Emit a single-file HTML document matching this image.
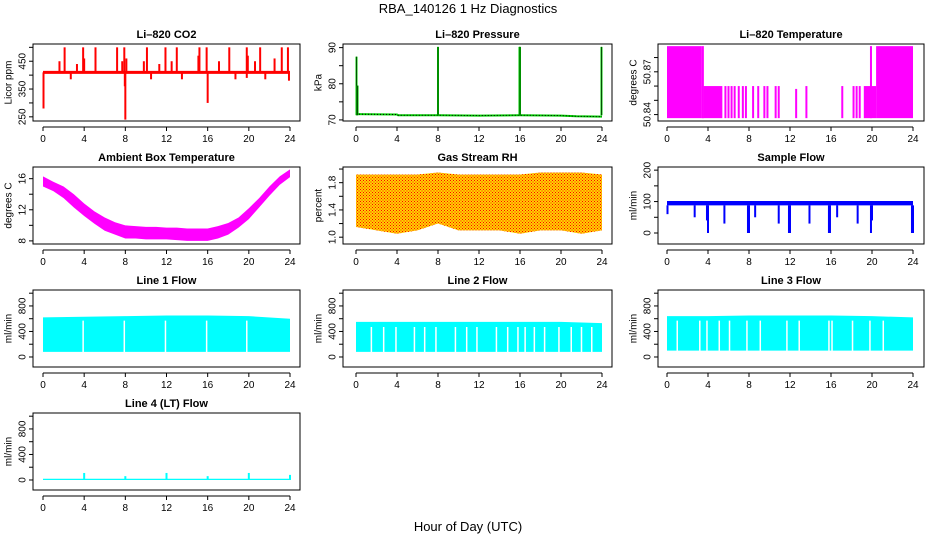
<!DOCTYPE html>
<html><head><meta charset="utf-8"><style>
body{margin:0;background:#fff}
svg{display:block;font-family:"Liberation Sans",sans-serif}
</style></head><body>
<svg id="c" width="936" height="540" viewBox="0 0 936 540">
<text x="468" y="13" text-anchor="middle" font-size="13">RBA_140126  1 Hz Diagnostics</text>
<text x="468" y="531" text-anchor="middle" font-size="13">Hour of Day (UTC)</text>
</svg>
<script>
// ---- data arrays ----
const xTicks=[0,4,8,12,16,20,24];
// CO2
const co2Base=410;
const co2SpikeHours=[2.1,3.9,5.1,7.2,7.9,10.1,11.9,13.0,15.2,15.9,18.1,19.8,21.1,23.2,23.8,1.6,3.3,4.0,7.7,8.1,9.8,11.3,12.5,15.1,17.1,19.9,20.6,22.5];
const co2SpikeVals=[500,500,500,500,500,500,500,500,500,500,500,500,500,500,500,450,440,460,450,460,450,440,450,470,450,470,450,460];
const co2DipHours=[0.05,2.7,7.95,8.0,10.5,13.5,16.0,18.7,19.8,21.6,23.9];
const co2DipVals=[280,385,360,240,385,385,300,385,390,385,380];
// Pressure
const presHours=[0,4,4.1,8,12,16,20,21.5,24];
const presVals=[71.6,71.5,71.3,71.3,71.2,71.3,71.2,71.0,70.9];
const presSpikeHours=[0.05,0.15,8.0,15.95,16.0,23.95];
const presSpikeVals=[87.5,79.5,90.2,90.2,90.2,90.2];
// Li-820 temperature (step levels)
const tempStepHours=[0,3.4,3.6,5.4,19.2,20.4,24];
const tempStepVals=[50.888,50.860,50.860,50.8375,50.860,50.888];
const tempSpikeHours=[3.5,5.7,6.0,6.3,6.6,7.0,7.4,7.7,8.4,8.9,9.5,9.8,10.6,10.9,12.6,13.6,17.1,18.2,18.5,18.8,19.9];
const tempSpikeVals=[50.888,50.86,50.86,50.86,50.86,50.86,50.86,50.86,50.86,50.86,50.86,50.86,50.86,50.86,50.858,50.86,50.86,50.86,50.86,50.86,50.888];
// Ambient box temperature
const ambHours=[0,1,2,3,4,5,6,7,8,9,10,11,12,13,14,15,16,17,18,19,20,21,22,23,24];
const ambHi=[16.3,15.6,15.0,14.0,12.8,11.8,11.0,10.4,10.0,9.9,9.8,9.8,9.7,9.7,9.6,9.6,9.6,9.9,10.3,11.0,12.2,13.5,15.0,16.3,17.2];
const ambLo=[15.0,14.4,13.5,12.3,11.2,10.2,9.3,8.8,8.3,8.3,8.2,8.2,8.2,8.1,8.0,8.0,8.0,8.3,8.8,9.7,10.8,12.3,13.8,15.2,16.2];
// Gas stream RH
const rhHours=[0,2,4,6,8,10,12,14,16,18,20,22,24];
const rhHi=[1.92,1.92,1.92,1.92,1.95,1.92,1.92,1.92,1.92,1.95,1.95,1.95,1.92];
const rhLo=[1.15,1.1,1.05,1.1,1.2,1.1,1.1,1.1,1.05,1.1,1.1,1.05,1.1];
// Sample flow
const sfHi=102, sfLo=88;
const sfDipHours=[0.05,2.7,3.9,4.0,5.6,7.9,8.0,8.6,10.9,11.9,12.0,13.9,15.8,15.9,16.6,18.6,19.9,20.0,23.9,24.0];
const sfDipVals=[60,50,40,0,30,0,0,50,30,0,0,30,0,0,50,30,0,40,0,0];
// Line flows
const l1Hi=[620,630,640,650,650,640,600], l1Lo=80;
const l1GapHours=[3.9,7.9,11.9,15.9,19.8];
const l2Hi=[550,550,550,550,550,550,530], l2Lo=80;
const l2GapHours=[1.5,2.7,3.9,5.7,6.7,7.8,9.7,10.8,11.8,13.7,14.8,15.8,16.5,17.4,18.4,19.8,21.0,22.0,23.0];
const l3Hi=[640,640,650,650,650,640,620], l3Lo=100;
const l3GapHours=[1.0,3.2,3.9,5.1,6.1,7.8,9.1,11.7,12.9,15.8,16.1,18.1,19.8,21.1];
const l4Base=20;
const l4SpikeHours=[4.0,8.0,12.0,16.0,20.0,24.0];
const l4SpikeVals=[110,60,110,60,110,80];

// ---- layout ----
const NS='http://www.w3.org/2000/svg';
const svg=document.getElementById('c');
function mk(tag,attrs,parent){const e=document.createElementNS(NS,tag);for(const k in attrs)e.setAttribute(k,attrs[k]);(parent||svg).appendChild(e);return e;}
const cols=[[33,300,43,290,9,23],[343,612,356,602,319,333],[658,924,667,913,634,648]];
const rows=[[44,121],[167,244],[290,367],[413,490]];

function panel(name,title,c,r,ylim,ticks,labels,ylab){
  const [bl,br,x0,x1,ylx,tlx]=cols[c];const [bt,bb]=rows[r];
  const g=mk('g',{});
  
  
  const X=h=>x0+(x1-x0)*h/24;
  const Y=v=>bb-(bb-bt)*(v-ylim[0])/(ylim[1]-ylim[0]);
  const data=mk('g',{},g);
  
  
  const box=mk('rect',{x:bl,y:bt,width:br-bl,height:bb-bt,fill:'none',stroke:'#000','stroke-width':1},g);
  
  
  const t=mk('text',{x:(bl+br)/2,y:bt-6,'text-anchor':'middle','font-size':11,'font-weight':'bold'},g);
  t.textContent=title;
  
  
  mk('line',{x1:X(0),x2:X(24),y1:bb+6,y2:bb+6,stroke:'#000'},g);
  xTicks.forEach(h=>{mk('line',{x1:X(h),x2:X(h),y1:bb+6,y2:bb+10,stroke:'#000'},g);
    const l=mk('text',{x:X(h),y:bb+21,'text-anchor':'middle','font-size':10},g);l.textContent=h;
    
    });
  mk('line',{x1:bl,x2:bl,y1:Y(ticks[0]),y2:Y(ticks[ticks.length-1]),stroke:'#000'},g);
  ticks.forEach((v,i)=>{mk('line',{x1:bl-4,x2:bl,y1:Y(v),y2:Y(v),stroke:'#000'},g);
    if(labels[i]!==''){const l=mk('text',{x:tlx,y:Y(v),'text-anchor':'middle','font-size':10,transform:`rotate(-90 ${tlx} ${Y(v)})`,'dominant-baseline':'middle'},g);l.textContent=labels[i];
    
    }});
  const yl=mk('text',{x:ylx,y:(bt+bb)/2,'text-anchor':'middle','font-size':10,transform:`rotate(-90 ${ylx} ${(bt+bb)/2})`,'dominant-baseline':'middle'},g);
  yl.textContent=ylab;
  
  
  return {X,Y,g:data};
}
function vline(p,h,a,b,col,w){mk('line',{x1:p.X(h),x2:p.X(h),y1:p.Y(a),y2:p.Y(b),stroke:col,'stroke-width':w||1.5},p.g);}
function band(p,hours,hi,lo,col){let pts=hours.map((h,i)=>p.X(h)+','+p.Y(hi[i]));
  for(let i=hours.length-1;i>=0;i--)pts.push(p.X(hours[i])+','+p.Y(Array.isArray(lo)?lo[i]:lo));
  mk('polygon',{points:pts.join(' '),fill:col},p.g);}
const sevenH=[0,4,8,12,16,20,24];

let p=panel('co2','Li\u2013820 CO2',0,0,[235,512],[250,300,350,400,450,500],['250','','350','','450',''],'Licor ppm');
mk('line',{x1:p.X(0),x2:p.X(24),y1:p.Y(co2Base),y2:p.Y(co2Base),stroke:'#f00','stroke-width':3},p.g);
co2SpikeHours.forEach((h,i)=>vline(p,h,co2Base,co2SpikeVals[i],'#f00',2));
co2DipHours.forEach((h,i)=>vline(p,h,co2Base,co2DipVals[i],'#f00',2));

p=panel('pressure','Li\u2013820 Pressure',1,0,[69.7,91],[70,75,80,85,90],['70','','80','','90'],'kPa');
mk('polyline',{points:presHours.map((h,i)=>p.X(h)+','+p.Y(presVals[i])).join(' '),fill:'none',stroke:'#0c0','stroke-width':2},p.g);
mk('polyline',{points:presHours.map((h,i)=>p.X(h)+','+p.Y(presVals[i])).join(' '),fill:'none',stroke:'#000','stroke-width':1,'stroke-dasharray':'1 2'},p.g);
presSpikeHours.forEach((h,i)=>{vline(p,h,presVals[0]-0.3,presSpikeVals[i],'#0c0',2);vline(p,h,presVals[0]-0.3,presSpikeVals[i],'#000',0.6);});

p=panel('li820-temp','Li\u2013820 Temperature',2,0,[50.8355,50.8895],[50.84,50.85,50.86,50.87,50.88],['50.84','','','50.87',''],'degrees C');
for(let i=0;i<tempStepVals.length;i++){const a=p.X(tempStepHours[i]),b=p.X(tempStepHours[i+1]);
  mk('rect',{x:a,y:p.Y(tempStepVals[i]),width:b-a,height:p.Y(50.8375)-p.Y(tempStepVals[i]),fill:'#f0f'},p.g);}
tempSpikeHours.forEach((h,i)=>vline(p,h,50.8375,tempSpikeVals[i],'#f0f',2));

p=panel('ambient-temp','Ambient Box Temperature',0,1,[7.6,17.5],[8,10,12,14,16],['8','','12','','16'],'degrees C');
band(p,ambHours,ambHi,ambLo,'#f0f');

p=panel('gas-rh','Gas Stream RH',1,1,[0.9,2.03],[1.0,1.2,1.4,1.6,1.8,2.0],['1.0','','1.4','','1.8',''],'percent');
band(p,rhHours,rhHi,rhLo,'#ffd400');
const pat=mk('pattern',{id:'rp',width:3,height:3,patternUnits:'userSpaceOnUse'});
mk('rect',{x:0,y:0,width:1,height:1,fill:'#f00'},pat);mk('rect',{x:1.5,y:1.5,width:1,height:1,fill:'#f00'},pat);
let pts=rhHours.map((h,i)=>p.X(h)+','+p.Y(rhHi[i]));for(let i=rhHours.length-1;i>=0;i--)pts.push(p.X(rhHours[i])+','+p.Y(rhLo[i]));
mk('polygon',{points:pts.join(' '),fill:'url(#rp)'},p.g);

p=panel('sample-flow','Sample Flow',2,1,[-35,210],[0,50,100,150,200],['0','','100','','200'],'ml/min');
band(p,[0,24],[sfHi,sfHi],[sfLo,sfLo],'#00f');
sfDipHours.forEach((h,i)=>vline(p,h,sfLo,sfDipVals[i],'#00f',2));

const lt=[0,200,400,600,800,1000],ll=['0','','400','','800',''];
function flow(name,title,c,r,hi,lo,gaps){const q=panel(name,title,c,r,[-157,1050],lt,ll,'ml/min');
  band(q,sevenH,hi,[lo,lo,lo,lo,lo,lo,lo],'#0ff');
  gaps.forEach(h=>vline(q,h,lo-5,hi[3]-80,'#fff',1.5));}
flow('line1-flow','Line 1 Flow',0,2,l1Hi,l1Lo,l1GapHours);
flow('line2-flow','Line 2 Flow',1,2,l2Hi,l2Lo,l2GapHours);
flow('line3-flow','Line 3 Flow',2,2,l3Hi,l3Lo,l3GapHours);
p=panel('line4-flow','Line 4 (LT) Flow',0,3,[-157,1050],lt,ll,'ml/min');
band(p,[0,24],[l4Base,l4Base],[0,0],'#0ff');
l4SpikeHours.forEach((h,i)=>vline(p,h,0,l4SpikeVals[i],'#0ff',2));
</script>
</body></html>
